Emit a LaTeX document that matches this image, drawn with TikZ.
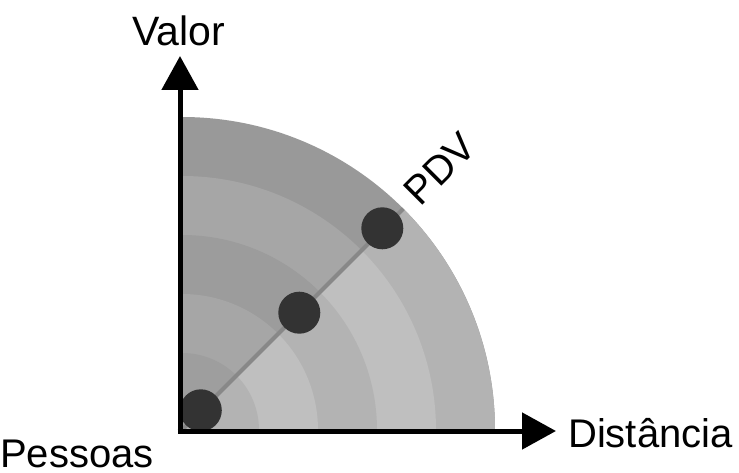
\documentclass[tikz,border=0pt]{standalone}
\usepackage{fontspec}
\setmainfont{Liberation Sans}
\usetikzlibrary{arrows.meta}
\definecolor{upA}{HTML}{999999}
\definecolor{upB}{HTML}{A6A6A6}
\definecolor{upC}{HTML}{9C9C9C}
\definecolor{upD}{HTML}{A6A6A6}
\definecolor{upE}{HTML}{9E9E9E}
\definecolor{loA}{HTML}{B3B3B3}
\definecolor{loB}{HTML}{BFBFBF}
\definecolor{loC}{HTML}{B3B3B3}
\definecolor{loD}{HTML}{BFBFBF}
\definecolor{loE}{HTML}{B3B3B3}
\definecolor{dotc}{HTML}{333333}
\definecolor{linec}{HTML}{888888}
\tikzset{
  dotnode/.style={circle,fill=dotc,minimum size=42pt,inner sep=0pt},
  axisline/.style={line width=5pt,-{Triangle[length=34pt,width=36pt]}},
  lbl/.style={font=\fontsize{40}{40}\selectfont,inner sep=0pt},
}
\begin{document}
\begin{tikzpicture}[x=1pt,y=1pt]
\useasboundingbox (0,0) rectangle (739,472);
\coordinate (O) at (182,42);
\foreach \r/\cu in {313/upA, 254/upB, 195/upC, 136/upD, 77/upE}{
  \fill[\cu] (182,42) -- (182+\r,42) arc[start angle=0,end angle=90,radius=\r] -- cycle;
}
\foreach \r/\cl in {313/loA, 254/loB, 195/loC, 136/loD, 77/loE}{
  \fill[\cl] (182,42) -- (182+\r,42) arc[start angle=0,end angle=45,radius=\r] -- cycle;
}
\coordinate (E) at (403.3,263.3);
\draw[linec,line width=4pt] (O) -- (E);
\node[dotnode] (p1) at (200.8,61.7) {};
\node[dotnode] (p2) at (299.3,159.3) {};
\node[dotnode] (p3) at (382.3,243.7) {};
\coordinate (ybot) at (180,39);
\coordinate (ytop) at (180,416);
\coordinate (xleft) at (177.5,41);
\coordinate (xright) at (556,41);
\draw[axisline] (ybot) -- (ytop);
\draw[axisline] (xleft) -- (xright);
\node[lbl,anchor=base,font=\fontsize{41}{41}\selectfont] (valor) at (179,426) {Valor};
\node[lbl,anchor=base west] (dist) at (568,25) {Distância};
\node[lbl,anchor=base west] (pess) at (0,5) {Pessoas};
\node[lbl,rotate=45] (pdv) at (440,303) {PDV};
\end{tikzpicture}
\end{document}
